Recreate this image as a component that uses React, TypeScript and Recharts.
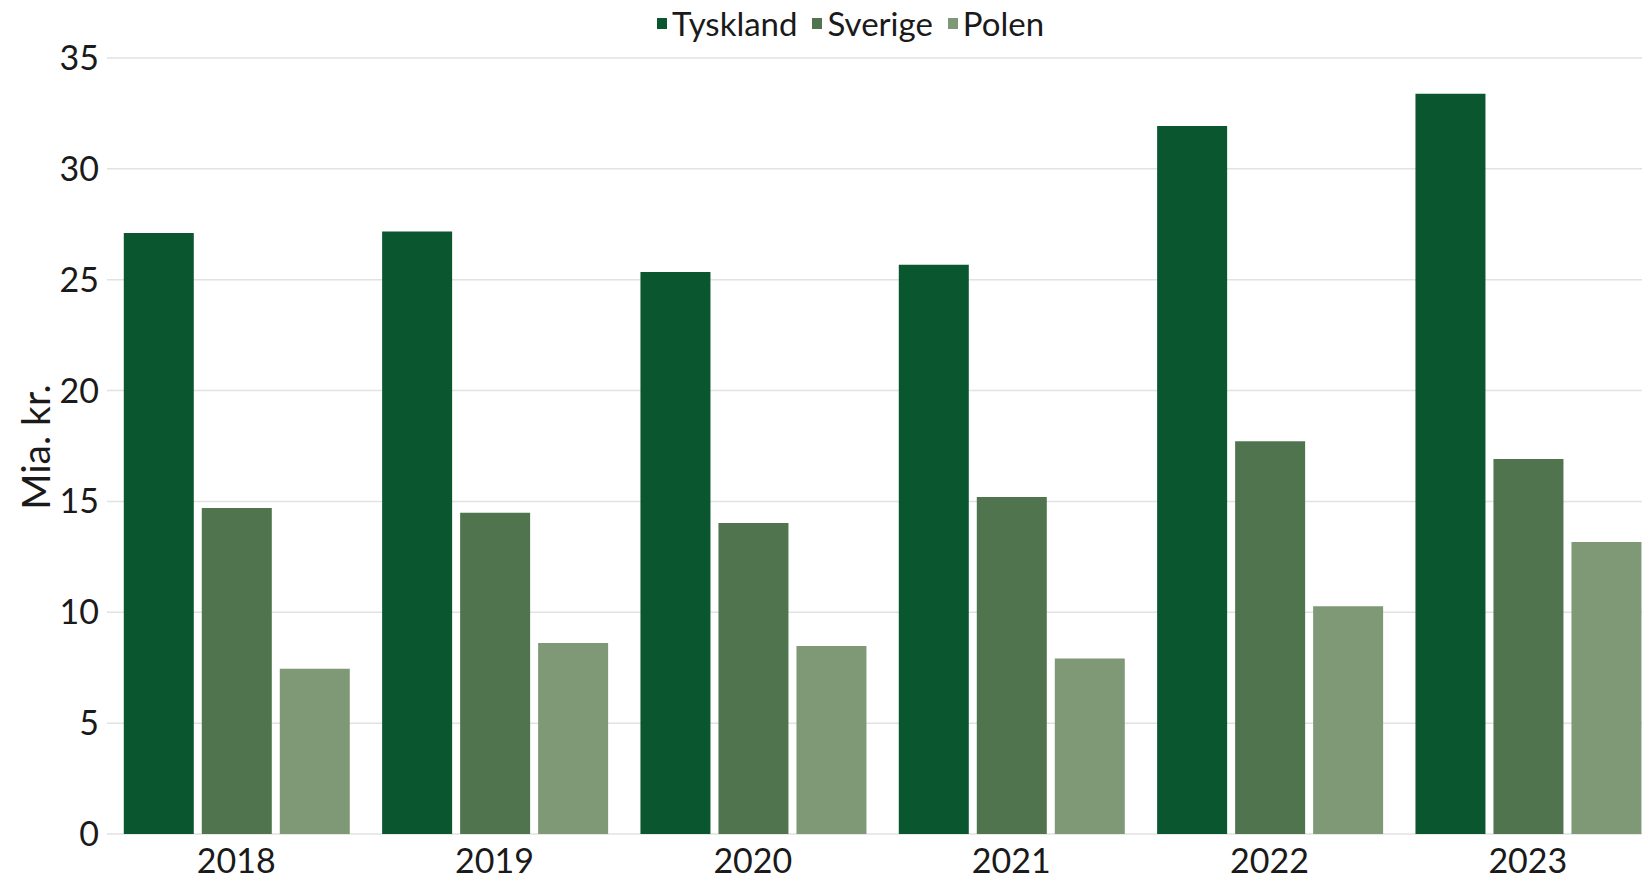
import React from 'react';
import { BarChart, Bar, XAxis, YAxis, CartesianGrid, Legend, Label } from 'recharts';

const years = ['2018', '2019', '2020', '2021', '2022', '2023'];
const tyskland = [27.11, 27.17, 25.35, 25.68, 31.93, 33.39];
const sverige = [14.7, 14.49, 14.03, 15.2, 17.71, 16.91];
const polen = [7.45, 8.61, 8.48, 7.91, 10.27, 13.17];
const yTicks = [0, 5, 10, 15, 20, 25, 30, 35];

const seriesNames = ['Tyskland', 'Sverige', 'Polen'];
const seriesColors = ['#0a562e', '#50744d', '#7f9977'];

const data = years.map((y, i) => ({
  year: y,
  Tyskland: tyskland[i],
  Sverige: sverige[i],
  Polen: polen[i],
}));

const FONT = 'Lato, "Noto Sans", sans-serif';
const TEXT = '#1a1a1a';

const LegendContent = () => (
  <div
    style={{
      display: 'flex',
      alignItems: 'center',
      height: 46,
      paddingLeft: 657,
      fontFamily: FONT,
      fontSize: 33,
      lineHeight: '46px',
      color: TEXT,
    }}
  >
    {seriesNames.map((n, i) => (
      <div key={n} style={{ display: 'flex', alignItems: 'center', marginRight: 15 }}>
        <span
          style={{
            display: 'inline-block',
            width: 10,
            height: 11,
            background: seriesColors[i],
            marginRight: 5,
          }}
        />
        <span>{n}</span>
      </div>
    ))}
  </div>
);

const YLabel = (props: any) => {
  const vb = props.viewBox || { y: 58, height: 776 };
  const cy = vb.y + vb.height / 2 + 1;
  return (
    <text
      x={49.5}
      y={cy}
      transform={`rotate(-90, 49.5, ${cy})`}
      textAnchor="middle"
      fontFamily={FONT}
      fontSize={39}
      fill={TEXT}
    >
      Mia. kr.
    </text>
  );
};

export default function App() {
  return (
    <div
      style={{
        position: 'absolute',
        left: 0,
        top: 0,
        width: 1642,
        height: 880,
        overflow: 'hidden',
        background: '#fff',
      }}
    >
      <BarChart
        width={1665}
        height={880}
        data={data}
        margin={{ top: 12, right: 8, bottom: 0, left: 0 }}
        barCategoryGap="6.5%"
        barGap={8}
      >
        <Legend verticalAlign="top" align="left" content={<LegendContent />} wrapperStyle={{ top: 0, left: 0, width: 1665 }} />
        <CartesianGrid vertical={false} stroke="#e2e2e2" strokeWidth={1.5} />
        <XAxis
          dataKey="year"
          axisLine={false}
          tickLine={false}
          height={46}
          tickMargin={9}
          tick={{ fontFamily: FONT, fontSize: 34, fill: TEXT }}
          interval={0}
        />
        <YAxis
          domain={[0, 35]}
          ticks={yTicks}
          axisLine={false}
          tickLine={false}
          width={107}
          tick={{ fontFamily: FONT, fontSize: 34, fill: TEXT }}
          interval={0}
        >
          <Label content={<YLabel />} />
        </YAxis>
        {seriesNames.map((n, i) => (
          <Bar key={n} dataKey={n} fill={seriesColors[i]} isAnimationActive={false} />
        ))}
      </BarChart>
    </div>
  );
}
